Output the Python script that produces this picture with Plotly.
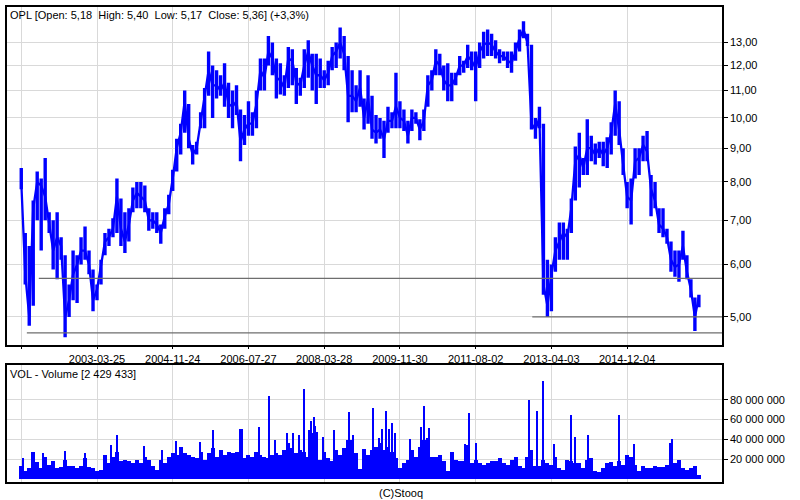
import plotly.graph_objects as go

# ---------------- data ----------------
# one sample every ~4 px, 19 samples per grid interval; index 0 = first grid line
highs = [8.4, 6.7, 6.4, 7.5, 8.3, 8.1, 8.7, 7.2, 7.0, 7.2,
         6.6, 6.2, 5.6, 6.3, 6.2, 6.6, 6.85, 6.3, 5.9, 5.6,
         6.1, 6.7, 6.8, 7.05, 8.1, 7.55, 7.2, 7.3, 7.85, 8.0,
         8.0, 7.9, 7.3, 7.2, 7.2, 6.9, 7.3, 7.65, 8.35, 9.3,
         9.8, 11.0, 10.5, 9.1, 9.2, 10.2, 11.1, 12.6, 12.0, 11.8,
         11.6, 12.1, 11.3, 11.0, 11.2, 10.3, 10.1, 10.6, 10.2, 11.0,
         12.3, 12.3, 13.3, 13.0, 12.3, 12.1, 11.6, 12.8, 12.7, 11.9,
         11.5, 12.7, 13.1, 12.5, 12.5, 12.3, 11.8, 12.2, 12.8, 13.0,
         13.7, 13.3, 12.4, 11.8, 11.2, 11.8, 10.7, 11.6, 10.8, 10.1,
         10.0, 9.9, 10.4, 10.2, 11.7, 10.6, 10.3, 9.9, 10.3, 10.2,
         9.95, 10.3, 11.6, 11.8, 12.7, 12.5, 12.0, 12.1, 11.7, 11.7,
         12.4, 12.2, 12.9, 12.6, 12.6, 13.0, 13.5, 13.6, 13.4, 13.1,
         12.7, 12.6, 12.6, 12.6, 13.0, 13.6, 14.0, 13.4, 12.9, 10.0,
         10.4, 9.8, 6.1, 6.0, 6.6, 6.95, 6.95, 6.8, 7.55, 9.05,
         9.5, 8.7, 9.95, 9.4, 9.15, 9.2, 9.2, 9.35, 9.85, 11.0,
         10.6, 9.0, 8.0, 8.1, 9.0, 9.0, 9.4, 9.55, 8.2, 8.0,
         7.3, 7.3, 6.8, 6.5, 6.3, 6.3, 6.75, 6.2, 5.7, 5.35, 5.4]

lows = [7.8, 5.6, 4.85, 5.2, 7.0, 6.3, 7.0, 6.7, 5.9, 5.7,
        6.1, 4.66, 5.0, 5.3, 5.25, 6.0, 6.1, 5.8, 5.1, 5.3,
        5.6, 6.2, 6.4, 6.6, 6.7, 6.4, 6.25, 6.5, 7.2, 7.3,
        7.3, 7.2, 6.75, 6.8, 6.7, 6.45, 6.8, 7.15, 7.75, 8.3,
        8.8, 9.5, 9.0, 8.5, 8.8, 9.65, 9.65, 10.8, 10.0, 10.7,
        10.8, 10.4, 10.0, 9.65, 10.1, 8.6, 9.1, 9.4, 9.4, 9.65,
        11.0, 11.0, 12.0, 11.6, 10.7, 10.85, 10.8, 11.1, 11.2, 10.5,
        10.8, 11.1, 11.5, 11.0, 10.5, 11.1, 11.1, 11.2, 11.8, 11.9,
        12.3, 11.8, 9.85, 10.2, 10.2, 10.4, 9.6, 9.8, 9.3, 9.15,
        9.3, 8.7, 9.5, 9.65, 9.65, 9.65, 9.55, 9.15, 9.55, 9.8,
        9.25, 9.55, 10.4, 11.0, 11.6, 11.6, 11.0, 10.6, 10.6, 11.2,
        11.6, 11.7, 11.9, 11.8, 10.6, 11.9, 12.3, 12.4, 12.4, 12.3,
        12.1, 12.2, 11.9, 11.7, 12.2, 12.6, 13.2, 12.85, 9.6, 9.3,
        9.65, 5.4, 5.0, 5.1, 5.85, 6.1, 6.1, 6.1, 6.7, 7.5,
        7.85, 8.2, 8.2, 8.6, 8.5, 8.7, 8.45, 8.4, 8.8, 9.4,
        9.1, 8.2, 7.3, 6.9, 8.1, 8.2, 8.6, 8.6, 7.1, 7.3,
        6.7, 6.6, 6.45, 5.85, 5.75, 5.65, 6.1, 5.7, 5.35, 4.76, 5.17]

closes = [8.0, 5.8, 5.0, 7.3, 8.0, 7.9, 7.6, 6.9, 6.3, 6.6,
          6.4, 5.0, 5.3, 5.8, 6.0, 6.3, 6.3, 6.0, 5.3, 5.5,
          6.0, 6.5, 6.6, 6.8, 7.6, 6.8, 6.5, 6.9, 7.5, 7.7,
          7.6, 7.5, 7.0, 7.0, 6.9, 6.7, 7.1, 7.4, 8.1, 9.0,
          9.5, 10.6, 9.3, 8.8, 9.0, 9.9, 10.8, 11.8, 11.2, 11.2,
          11.0, 11.3, 10.5, 10.4, 10.6, 9.2, 9.6, 9.8, 9.8, 10.5,
          11.8, 11.5, 12.6, 12.3, 11.5, 11.4, 11.1, 12.3, 12.2, 11.3,
          11.2, 12.0, 12.6, 12.0, 11.6, 11.6, 11.4, 11.7, 12.4, 12.6,
          13.0, 12.5, 10.8, 10.8, 10.6, 11.1, 10.0, 10.7, 9.6, 9.5,
          9.6, 9.3, 9.9, 9.9, 10.4, 10.0, 9.9, 9.4, 10.0, 10.0,
          9.6, 9.9, 11.2, 11.4, 12.2, 12.0, 11.4, 11.2, 11.2, 11.5,
          12.0, 12.0, 12.4, 12.2, 11.9, 12.6, 12.9, 13.0, 12.9, 12.6,
          12.4, 12.4, 12.2, 12.1, 12.6, 13.2, 13.6, 13.0, 9.8, 9.6,
          10.0, 5.6, 5.2, 5.8, 6.3, 6.5, 6.7, 6.6, 7.3, 8.6,
          8.8, 8.4, 9.0, 9.0, 8.8, 9.0, 8.8, 9.0, 9.5, 10.5,
          9.6, 8.5, 7.6, 7.5, 8.6, 8.7, 9.1, 8.9, 7.8, 7.5,
          6.9, 6.8, 6.6, 6.1, 5.95, 6.0, 6.4, 5.85, 5.5, 5.0, 5.36]

# volume, millions of shares (typical level of each sample)
volumes_m = [12.7, 7.7, 11, 27, 17, 11, 22, 14, 17.7, 11,
             12, 19, 12.7, 12.7, 11, 13, 21, 12, 11, 7.7,
             8.7, 24, 16, 22.7, 27.7, 17.7, 19, 17.7, 16, 19,
             16, 22.7, 19, 12.7, 9.3, 19, 16, 22.7, 26, 24,
             32.7, 26, 24, 22.7, 21, 27.7, 19, 26, 31, 22.7,
             29, 24, 27.7, 26, 27.7, 32.7, 21, 24, 22.7, 27.7,
             24, 22.7, 21, 24, 26, 24, 29, 36, 31, 26,
             29, 27.7, 22.7, 46, 47.7, 19, 27.7, 21, 17.7, 29,
             24, 31, 39, 39, 26, 10, 30, 24, 29, 32.7,
             36, 29, 32.7, 27.7, 21, 11, 16, 19, 29, 22.7,
             32.7, 39, 41, 22.7, 22.7, 24, 17.7, 7.7, 27.7, 19,
             17.7, 17.7, 34, 16, 19, 16, 14, 16, 17.7, 17.7,
             21, 16, 14, 19, 22.7, 12.7, 11, 22.7, 29, 12.7,
             12.7, 19, 16, 14, 22.7, 11, 9.3, 19, 17.7, 16,
             16, 11, 19, 21, 7.7, 6.7, 11, 16, 16.7, 12.7,
             17.7, 14, 24, 22.7, 14, 7.7, 12.7, 11, 11, 12.7,
             12, 12, 14, 17.7, 16, 19, 11, 9.3, 11, 12.7, 4.3]

# isolated high-volume sessions (position in sample units, millions)
spike_pos = [0.4, 5.4, 11.0, 15.9, 22.5, 24.0, 30.75, 35.25, 38.75, 44.75,
             48.25, 55.0, 55.5, 59.75, 62.25, 63.75, 66.75, 68.25, 69.75, 71.0,
             72.25, 72.75, 73.5, 73.8, 75.75, 78.6, 82.25, 83.25, 88.2, 89.8,
             90.5, 91.6, 92.3, 93.1, 93.7, 97.5, 100.3, 101.0, 102.3, 111.3,
             112.3, 114.1, 127.5, 129.3, 131.0, 133.6, 138.0, 139.0, 142.3, 150.0,
             153.8, 162.7, 163.2]
spike_vol_m = [21, 26.7, 28, 26.7, 34, 44, 33, 29, 38, 37.7,
               49, 50, 50, 52, 83, 39, 46, 46, 44, 91,
               49, 58, 62, 53, 42, 49, 67, 44, 71, 41,
               50, 68, 50, 56, 46, 40, 52.7, 73, 51, 35,
               66, 36, 79, 68, 99, 35, 64, 42.7, 44, 64,
               35, 36.7, 40]

date_tick_pos = [0, 19, 38, 57, 76, 95, 114, 133, 152]
date_tick_text = ["", "2003-03-25", "2004-11-24", "2006-07-27", "2008-03-28",
                  "2009-11-30", "2011-08-02", "2013-04-03", "2014-12-04"]

price_ticks = [5, 6, 7, 8, 9, 10, 11, 12, 13]
price_tick_text = ["5,00", "6,00", "7,00", "8,00", "9,00", "10,00", "11,00", "12,00", "13,00"]

vol_ticks_m = [20, 40, 60, 80]
vol_tick_text = ["20 000 000", "40 000 000", "60 000 000", "80 000 000"]

support_levels = [5.72, 4.73, 5.00]
support_start = [4.4, 1.4, 128.2]

title_text = "OPL [Open: 5,18\u00a0\u00a0High: 5,40\u00a0\u00a0Low: 5,17\u00a0\u00a0Close: 5,36] (+3,3%)"
vol_title = "VOL - Volume [2 429 433]"

# ---------------- figure ----------------
BLUE = "#0000ff"
GRID = "#d9d9d9"
FONT = "Liberation Sans"
X_RANGE = [-3.58, 175.8]

idx = list(range(len(closes)))

seg_x, seg_y = [], []
for i, (h, l) in enumerate(zip(highs, lows)):
    seg_x += [i, i, None]
    seg_y += [l, h, None]

fig = go.Figure()

fig.add_trace(go.Scatter(x=seg_x, y=seg_y, mode="lines",
                         line=dict(color=BLUE, width=3.4),
                         xaxis="x", yaxis="y", hoverinfo="skip", showlegend=False))
fig.add_trace(go.Scatter(x=idx, y=closes, mode="lines",
                         line=dict(color=BLUE, width=2.3),
                         xaxis="x", yaxis="y", showlegend=False))

for lev, st in zip(support_levels, support_start):
    fig.add_trace(go.Scatter(x=[st, X_RANGE[1]], y=[lev, lev], mode="lines",
                             line=dict(color="#6e6e6e", width=1.2),
                             xaxis="x", yaxis="y", hoverinfo="skip", showlegend=False))

fig.add_trace(go.Bar(x=idx, y=[v * 1e6 for v in volumes_m], width=1.0,
                     marker=dict(color=BLUE, line=dict(width=0)),
                     xaxis="x2", yaxis="y2", showlegend=False))
fig.add_trace(go.Bar(x=spike_pos, y=[v * 1e6 for v in spike_vol_m], width=0.3,
                     marker=dict(color=BLUE, line=dict(width=0)),
                     xaxis="x2", yaxis="y2", showlegend=False))

axis_common = dict(showline=True, linecolor="black", linewidth=1.5, mirror=True,
                   zeroline=False, gridcolor=GRID, gridwidth=1,
                   tickfont=dict(family=FONT, size=11, color="black"))

fig.update_layout(
    width=800, height=500,
    margin=dict(l=5, r=78, t=5, b=18),
    paper_bgcolor="white", plot_bgcolor="white",
    barmode="overlay", bargap=0,
    font=dict(family=FONT, size=11, color="black"),
    xaxis=dict(domain=[0, 1], range=X_RANGE, anchor="y",
               tickmode="array", tickvals=date_tick_pos, ticktext=date_tick_text,
               ticks="outside", ticklen=3, tickcolor="black", **axis_common),
    yaxis=dict(domain=[0.2893, 1], type="log", range=[0.6572, 1.1677], anchor="x",
               side="right", tickmode="array", tickvals=price_ticks, ticktext=price_tick_text,
               ticks="outside", ticklen=4, tickcolor="black", **axis_common),
    xaxis2=dict(domain=[0, 1], range=X_RANGE, anchor="y2",
                tickmode="array", tickvals=date_tick_pos, showticklabels=False,
                ticks="", **axis_common),
    yaxis2=dict(domain=[0, 0.2459], range=[-2.7e6, 114.6e6], anchor="x2",
                side="right", tickmode="array", tickvals=[v * 1e6 for v in vol_ticks_m],
                ticktext=vol_tick_text, ticks="outside", ticklen=4, tickcolor="black",
                **axis_common),
    annotations=[
        dict(text=title_text, xref="paper", yref="paper", x=0.002, y=0.983,
             xanchor="left", yanchor="middle", showarrow=False,
             font=dict(family=FONT, size=11, color="black")),
        dict(text=vol_title, xref="paper", yref="paper", x=0.002, y=0.2264,
             xanchor="left", yanchor="middle", showarrow=False,
             font=dict(family=FONT, size=11, color="black")),
        dict(text="(C)Stooq", xref="paper", yref="paper", x=0.551, y=-0.023,
             xanchor="center", yanchor="middle", showarrow=False,
             font=dict(family=FONT, size=11, color="black")),
    ],
)

fig.write_html("out.html", config={"displayModeBar": False})
